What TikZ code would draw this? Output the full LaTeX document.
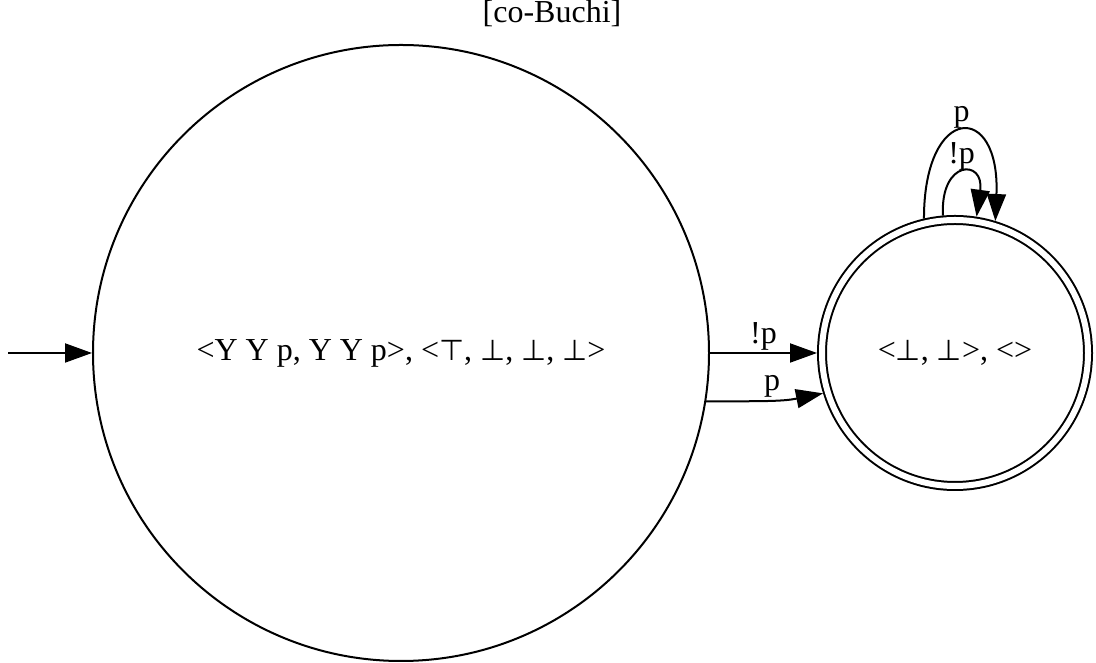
\documentclass[tikz,border=0pt]{standalone}
\usepackage{fontspec}
\setmainfont{Liberation Serif}
\newfontfamily\symfont{DejaVu Sans}[Scale=0.9]
\newcommand{\tp}{{\symfont ⊤}}
\newcommand{\bt}{{\symfont ⊥}}
\usetikzlibrary{arrows.meta}

\begin{document}
\begin{tikzpicture}[x=1pt,y=1pt,line width=2pt,>={Triangle[length=27pt,width=19pt]},
  font=\fontsize{32}{38}\selectfont,
  state/.style={draw,circle,inner sep=0pt},
  accepting/.style={double,double distance=6pt,outer sep=5pt},
  lbl/.style={inner sep=2pt}]
\useasboundingbox (0,0) rectangle (1096,663);
\node (title) at (552,649) {[co-Buchi]};
\node[state,minimum size=616pt] (q0) at (401,310) {<Y Y p, Y Y p>, <\tp, \bt, \bt, \bt>};
\node[state,accepting,minimum size=266pt] (q1) at (955,310) {<\bt, \bt>, <>};
\coordinate (init) at (8,310);
\draw[->] (init) -- (q0);
\draw[->] (q0) -- node[above,lbl] {!p} (q1);
\draw[->] (q0.-9.5) .. controls +(60,0) and +(-40,-8) .. node[above,lbl] {p} (q1.197);
\draw[->] (q1.103) .. controls +(0,115) and +(5,120) .. node[above,lbl] {p} (q1.73);
\draw[->] (q1.95) .. controls +(-3,56) and +(8,58) .. node[above,lbl] {!p} (q1.81);
\end{tikzpicture}
\end{document}
